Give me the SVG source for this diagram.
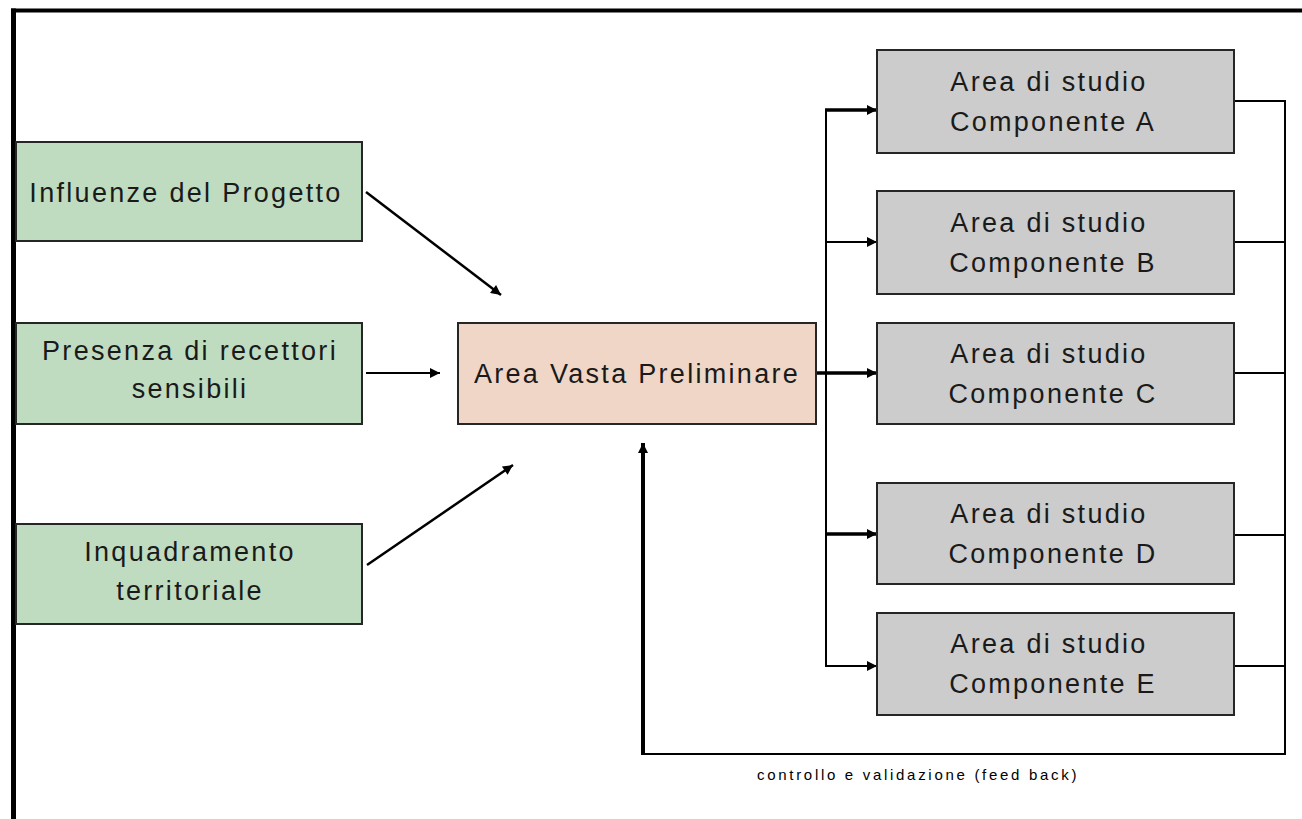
<svg xmlns="http://www.w3.org/2000/svg" width="1302" height="819" viewBox="0 0 1302 819">
<style>
.box{stroke:#262626;stroke-width:2}
.g{fill:#c0dcc0}
.p{fill:#f0d6c6}
.s{fill:#cccccc}
.t{font-family:"Liberation Sans",Arial,sans-serif;font-size:27px;letter-spacing:2.3px;fill:#1a1a1a;text-anchor:middle}
.ln{fill:none;stroke:#000}
.fb{font-family:"Liberation Sans",Arial,sans-serif;font-size:15px;letter-spacing:2.7px;fill:#000}
</style>
<defs>
<marker id="ah" viewBox="0 0 10 10" refX="10" refY="5" markerWidth="12" markerHeight="10" markerUnits="userSpaceOnUse" orient="auto">
<path d="M0,0 L10,5 L0,10 Z" fill="#000"/>
</marker>
</defs>
<rect width="1302" height="819" fill="#fff"/>
<g id="frame">
<line x1="11" y1="10.5" x2="1302" y2="10.5" stroke="#000" stroke-width="4"/>
<line x1="13.5" y1="8.5" x2="13.5" y2="819" stroke="#000" stroke-width="5"/>
</g>
<g id="connectors">
<line class="ln" x1="366" y1="192" x2="501" y2="295" stroke-width="2.5" marker-end="url(#ah)"/>
<line class="ln" x1="366" y1="373" x2="440" y2="373" stroke-width="2" marker-end="url(#ah)"/>
<line class="ln" x1="367" y1="565" x2="513" y2="465" stroke-width="2.5" marker-end="url(#ah)"/>
<line class="ln" x1="826" y1="109" x2="826" y2="667" stroke-width="2"/>
<line class="ln" x1="825" y1="110" x2="877" y2="110" stroke-width="3.5" marker-end="url(#ah)"/>
<line class="ln" x1="826" y1="242" x2="877" y2="242" stroke-width="2" marker-end="url(#ah)"/>
<line class="ln" x1="816" y1="373" x2="877" y2="373" stroke-width="3.5" marker-end="url(#ah)"/>
<line class="ln" x1="826" y1="534" x2="877" y2="534" stroke-width="3.5" marker-end="url(#ah)"/>
<line class="ln" x1="825" y1="666" x2="877" y2="666" stroke-width="2" marker-end="url(#ah)"/>
<polyline class="ln" points="1234,101 1285,101 1285,754 643,754" stroke-width="2"/>
<line class="ln" x1="1234" y1="242" x2="1285" y2="242" stroke-width="2"/>
<line class="ln" x1="1234" y1="373" x2="1285" y2="373" stroke-width="2"/>
<line class="ln" x1="1234" y1="535" x2="1285" y2="535" stroke-width="2"/>
<line class="ln" x1="1234" y1="666" x2="1285" y2="666" stroke-width="2"/>
<line class="ln" x1="643" y1="755" x2="643" y2="443" stroke-width="4" marker-end="url(#ah)"/>
<text class="fb" x="757" y="780">controllo e validazione (feed back)</text>
</g>
<g id="n-influenze">
<rect class="box g" x="16" y="142" width="346" height="99"/>
<text class="t" x="186" y="202">Influenze del Progetto</text>
</g>
<g id="n-presenza">
<rect class="box g" x="16" y="323" width="346" height="101"/>
<text class="t" x="190" y="360">Presenza di recettori</text>
<text class="t" x="190" y="398">sensibili</text>
</g>
<g id="n-inquadramento">
<rect class="box g" x="16" y="524" width="346" height="100"/>
<text class="t" x="190" y="561">Inquadramento</text>
<text class="t" x="190" y="600">territoriale</text>
</g>
<g id="n-areavasta">
<rect class="box p" x="458" y="323" width="358" height="101"/>
<text class="t" x="637" y="383">Area Vasta Preliminare</text>
</g>
<g id="n-compA">
<rect class="box s" x="877" y="50" width="357" height="103"/>
<text class="t" x="1049" y="91">Area di studio</text>
<text class="t" x="1053" y="131">Componente A</text>
</g>
<g id="n-compB">
<rect class="box s" x="877" y="191" width="357" height="103"/>
<text class="t" x="1049" y="232">Area di studio</text>
<text class="t" x="1053" y="272">Componente B</text>
</g>
<g id="n-compC">
<rect class="box s" x="877" y="323" width="357" height="101"/>
<text class="t" x="1049" y="363">Area di studio</text>
<text class="t" x="1053" y="403">Componente C</text>
</g>
<g id="n-compD">
<rect class="box s" x="877" y="483" width="357" height="101"/>
<text class="t" x="1049" y="523">Area di studio</text>
<text class="t" x="1053" y="563">Componente D</text>
</g>
<g id="n-compE">
<rect class="box s" x="877" y="613" width="357" height="102"/>
<text class="t" x="1049" y="653">Area di studio</text>
<text class="t" x="1053" y="693">Componente E</text>
</g>
</svg>
